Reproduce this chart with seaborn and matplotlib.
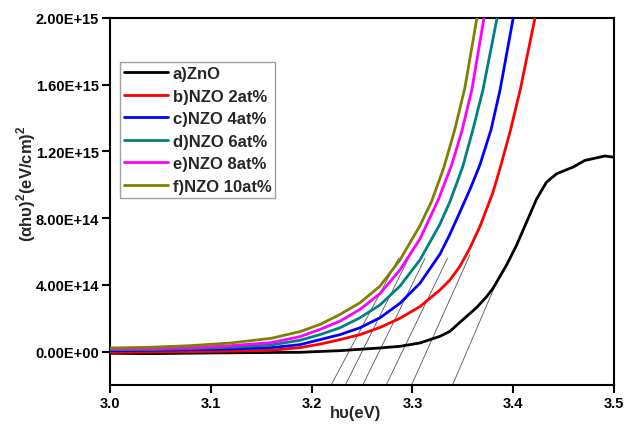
import numpy as np
import pandas as pd
import matplotlib
matplotlib.use("Agg")
import matplotlib.pyplot as plt
import seaborn as sns

# values (energy in eV, (alpha h nu)^2 in units of 1E14)
labels = ["a)ZnO", "b)NZO 2at%", "c)NZO 4at%", "d)NZO 6at%", "e)NZO 8at%", "f)NZO 10at%"]
colors = ["black", "red", "blue", "#008080", "magenta", "#808000"]

x_zno = [3.0, 3.04, 3.1, 3.16, 3.1885, 3.2282, 3.2679, 3.2877, 3.3075, 3.3274, 3.3373,
         3.347, 3.3638, 3.3737, 3.380, 3.3935, 3.4035, 3.4135, 3.4233, 3.433, 3.443,
         3.4597, 3.471, 3.491, 3.499]
y_zno = [-0.1, -0.12, -0.08, -0.05, -0.04, 0.06, 0.22, 0.32, 0.52, 0.92, 1.22,
         1.75, 2.65, 3.3, 3.8, 5.2, 6.4, 7.8, 9.16, 10.16, 10.66,
         11.07, 11.46, 11.73, 11.66]

x_2at = [3.0, 3.04, 3.08, 3.12, 3.16, 3.1885, 3.2083, 3.2282, 3.248, 3.2679, 3.2877,
         3.3075, 3.3274, 3.3373, 3.347, 3.357, 3.367, 3.380, 3.387, 3.397, 3.407, 3.4216]
y_2at = [-0.04, -0.02, 0.0, 0.03, 0.08, 0.24, 0.45, 0.72, 1.02, 1.45, 2.0,
         2.7, 3.7, 4.3, 5.1, 6.2, 7.5, 9.56, 11.0, 13.2, 15.7, 20.0]

x_4at = [3.0, 3.04, 3.08, 3.12, 3.16, 3.1885, 3.2083, 3.2282, 3.248, 3.2679, 3.2877,
         3.3075, 3.3274, 3.3373, 3.347, 3.358, 3.367, 3.378, 3.387, 3.400]
y_4at = [0.06, 0.08, 0.12, 0.16, 0.24, 0.42, 0.72, 1.02, 1.43, 2.03, 2.9,
         4.1, 5.85, 7.05, 8.35, 9.85, 11.2, 13.3, 15.7, 20.0]

x_6at = [3.0, 3.04, 3.08, 3.12, 3.16, 3.1885, 3.2083, 3.2282, 3.248, 3.2679, 3.2877,
         3.3075, 3.3274, 3.3373, 3.344, 3.350, 3.360, 3.370, 3.384]
y_6at = [0.12, 0.12, 0.18, 0.26, 0.4, 0.68, 1.02, 1.43, 2.03, 2.8, 3.93,
         5.5, 7.65, 9.0, 10.1, 11.1, 13.3, 15.7, 20.0]

x_8at = [3.0, 3.04, 3.08, 3.12, 3.16, 3.1885, 3.2083, 3.2282, 3.248, 3.2679, 3.2877,
         3.3075, 3.3257, 3.339, 3.349, 3.359, 3.371]
y_8at = [0.16, 0.18, 0.24, 0.36, 0.54, 0.9, 1.33, 1.83, 2.53, 3.48, 4.9,
         6.75, 9.1, 11.2, 13.2, 15.7, 20.0]

x_10at = [3.0, 3.04, 3.08, 3.12, 3.16, 3.1885, 3.2083, 3.2282, 3.248, 3.2679, 3.2877,
          3.3075, 3.319, 3.331, 3.342, 3.352, 3.364]
y_10at = [0.22, 0.26, 0.36, 0.52, 0.8, 1.2, 1.63, 2.23, 2.93, 3.93, 5.5,
          7.55, 9.0, 11.0, 13.3, 15.8, 20.0]

# Tauc extrapolation lines: band gap (x at y=0), slope (1E14 per eV), top end (1E14)
band_gap = [3.354, 3.314, 3.290, 3.267, 3.250, 3.237]
tauc_slope = [141.0, 135.0, 125.0, 123.0, 121.0, 113.5]
tauc_top = [4.6, 5.8, 5.6, 5.6, 5.6, 5.6]

xs = [x_zno, x_2at, x_4at, x_6at, x_8at, x_10at]
ys = [y_zno, y_2at, y_4at, y_6at, y_8at, y_10at]

frames = []
for lab, xv, yv in zip(labels, xs, ys):
    frames.append(pd.DataFrame({"E": xv, "A": np.array(yv) * 1e14, "sample": lab}))
df = pd.concat(frames, ignore_index=True)

sns.set_style("ticks")
plt.rcParams['font.family'] = ['Liberation Sans', 'DejaVu Sans']
plt.rcParams['font.weight'] = 'bold'
plt.rcParams['mathtext.fontset'] = 'custom'
plt.rcParams['mathtext.rm'] = 'Liberation Sans:bold'
plt.rcParams['mathtext.bf'] = 'Liberation Sans:bold'

fig = plt.figure(figsize=(6.41, 4.31), dpi=100)
ax = fig.add_axes([110 / 641, 1 - 386 / 431, 504 / 641, 367 / 431])

ymin = -2e14
for eg, s, top in zip(band_gap, tauc_slope, tauc_top):
    s = s * 1e14
    x0 = eg + ymin / s
    x1 = eg + top * 1e14 / s
    ax.plot([x0, x1], [ymin, top * 1e14], color="#555555", lw=0.6, zorder=1)

sns.lineplot(data=df, x="E", y="A", hue="sample", palette=dict(zip(labels, colors)),
             estimator=None, sort=False, lw=2.0, ax=ax, zorder=3)

ax.set_xlim(3.0, 3.5)
ax.set_ylim(-2e14, 2e15)
ax.set_xticks(np.arange(3.0, 3.51, 0.1))
ax.set_xticklabels([f"{v:.1f}" for v in np.arange(3.0, 3.51, 0.1)])
yt = np.arange(0, 2.01e15, 4e14)
ax.set_yticks(yt)
ax.set_yticklabels([f"{v:.2E}" for v in yt])
ax.tick_params(direction="out", length=6, width=1.5, labelsize=10.5, pad=2, colors="black")
for lab in ax.get_xticklabels() + ax.get_yticklabels():
    lab.set_fontweight("bold")
for sp in ax.spines.values():
    sp.set_visible(True)
    sp.set_linewidth(1.5)
    sp.set_color("black")

ax.set_xlabel("h\u03c5(eV)", fontsize=12, fontweight="bold", labelpad=1)
ax.xaxis.set_label_coords(0.488, -0.055)
ax.set_ylabel("(\u03b1h\u03c5)$^{2}$(eV/cm)$^{2}$", fontsize=12, fontweight="bold")
ax.yaxis.set_label_coords(-0.143, 0.55)

handles, _ = ax.get_legend_handles_labels()
leg = ax.legend(handles, labels, loc="upper left", bbox_to_anchor=(0.02, 0.88),
                borderaxespad=0, handlelength=2.6, handletextpad=0.3, labelspacing=0.45,
                borderpad=0.25, frameon=True, fancybox=False,
                prop={"weight": "bold", "size": 12})
leg.get_frame().set_edgecolor("#888888")
leg.get_frame().set_linewidth(1.0)
for ln in leg.get_lines():
    ln.set_linewidth(2.0)

fig.savefig("out.png", dpi=100)
